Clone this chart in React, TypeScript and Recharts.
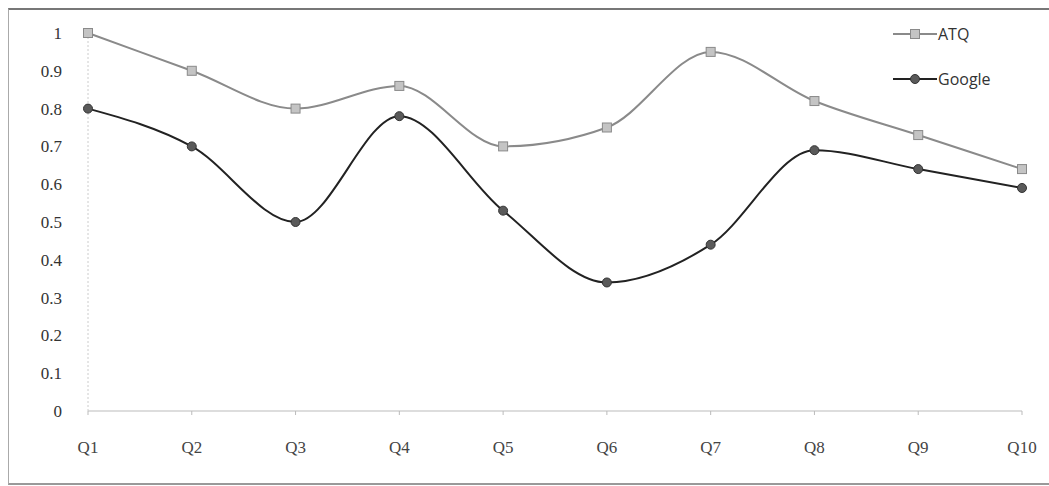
import { LineChart, Line, XAxis, YAxis } from "recharts"

const QUESTIONS = ["Q1", "Q2", "Q3", "Q4", "Q5", "Q6", "Q7", "Q8", "Q9", "Q10"]
const ATQ = [1.0, 0.9, 0.8, 0.86, 0.7, 0.75, 0.95, 0.82, 0.73, 0.64]
const GOOGLE = [0.8, 0.7, 0.5, 0.78, 0.53, 0.34, 0.44, 0.69, 0.64, 0.59]
const Y_TICKS = [0, 0.1, 0.2, 0.3, 0.4, 0.5, 0.6, 0.7, 0.8, 0.9, 1]

const ATQ_LINE = "#8a8a8a"
const ATQ_FILL = "#c4c4c4"
const GOOGLE_LINE = "#222"
const GOOGLE_FILL = "#5a5a5a"

const data = QUESTIONS.map((q, i) => ({ q, ATQ: ATQ[i], Google: GOOGLE[i] }))

const SERIF = "'Liberation Serif', 'DejaVu Serif', serif"

function SquareDot(props: any) {
  const { cx, cy } = props
  if (cx == null || cy == null) return null
  return <rect x={cx - 4.5} y={cy - 4.5} width={9} height={9} fill={ATQ_FILL} stroke={ATQ_LINE} strokeWidth={1} />
}

function RoundDot(props: any) {
  const { cx, cy } = props
  if (cx == null || cy == null) return null
  return <circle cx={cx} cy={cy} r={4.5} fill={GOOGLE_FILL} stroke="#333" strokeWidth={1} />
}

// legend drawn outside the chart so it doesn't eat plot width
function LegendBox() {
  const rows = [
    { name: "ATQ", line: ATQ_LINE, square: true },
    { name: "Google", line: GOOGLE_LINE, square: false },
  ]
  return (
    <div style={{ position: "absolute", left: 893, top: 11 }}>
      {rows.map((r) => (
        <div key={r.name} style={{ display: "flex", alignItems: "center", height: 45 }}>
          <svg width={44} height={12}>
            <line x1={0} y1={6} x2={44} y2={6} stroke={r.line} strokeWidth={2} />
            {r.square ? (
              <rect x={17.5} y={1.5} width={9} height={9} fill={ATQ_FILL} stroke={ATQ_LINE} />
            ) : (
              <circle cx={22} cy={6} r={4.5} fill={GOOGLE_FILL} stroke="#333" />
            )}
          </svg>
          <span style={{ fontFamily: "'Open Sans', 'DejaVu Sans', sans-serif", fontSize: 16, color: "#333", marginLeft: 1 }}>
            {r.name}
          </span>
        </div>
      ))}
    </div>
  )
}

export default function App() {
  return (
    <div style={{ position: "absolute", left: 0, top: 0, width: 1049, height: 486, background: "#fff" }}>
      <div
        style={{
          position: "absolute",
          left: 8,
          top: 8,
          width: 1041,
          height: 473,
          borderTop: "2px solid #777",
          borderLeft: "1px solid #aaa",
          borderBottom: "2px solid #999",
        }}
      />
      <div style={{ position: "absolute", left: 0, top: 0 }}>
        <LineChart width={1049} height={486} data={data} margin={{ top: 33, right: 27, left: 28, bottom: 35 }}>
          <XAxis
            dataKey="q"
            stroke="#bbb"
            tickSize={4}
            tickMargin={26}
            height={40}
            tick={{ fill: "#444", fontSize: 17, fontFamily: SERIF }}
          />
          <YAxis
            domain={[0, 1]}
            ticks={Y_TICKS}
            width={60}
            stroke="#ccc"
            strokeDasharray="2 2"
            tickLine={false}
            tickMargin={20}
            interval={0}
            tick={{ fill: "#333", fontSize: 17, fontFamily: SERIF }}
          />
          <Line
            type="monotone"
            dataKey="ATQ"
            stroke={ATQ_LINE}
            strokeWidth={2}
            dot={<SquareDot />}
            isAnimationActive={false}
          />
          <Line
            type="monotone"
            dataKey="Google"
            stroke={GOOGLE_LINE}
            strokeWidth={2}
            dot={<RoundDot />}
            isAnimationActive={false}
          />
        </LineChart>
      </div>
      <LegendBox />
    </div>
  )
}
